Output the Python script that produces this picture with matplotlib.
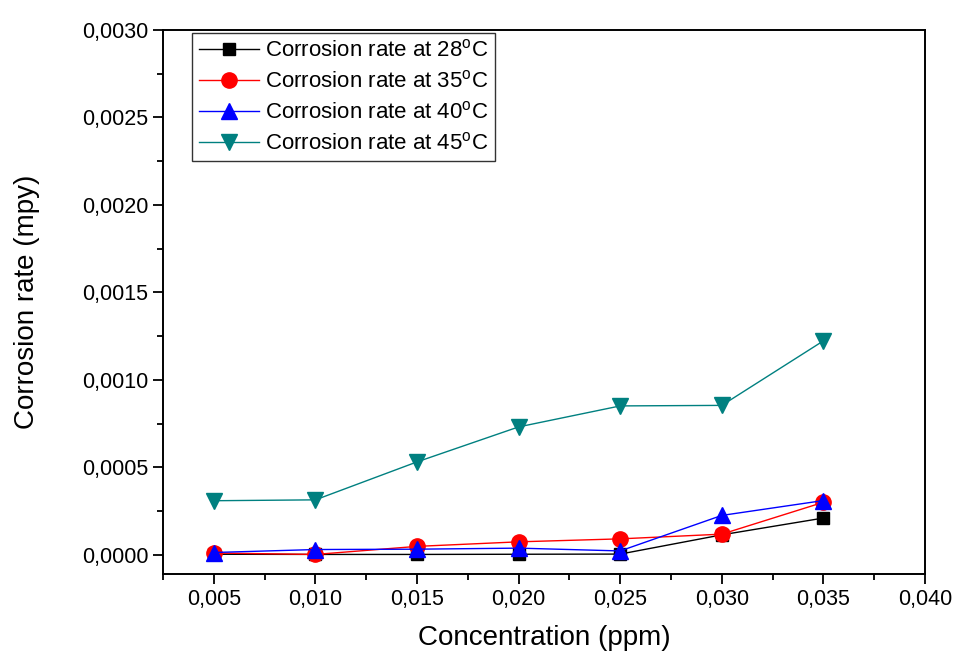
import matplotlib
matplotlib.use('Agg')
import matplotlib.pyplot as plt
from matplotlib.ticker import FuncFormatter, MultipleLocator

plt.rcParams['font.family'] = ['Liberation Sans', 'DejaVu Sans']
plt.rcParams['mathtext.default'] = 'regular'

conc = [0.005, 0.010, 0.015, 0.020, 0.025, 0.030, 0.035]
rate_28 = [0.000003, 0.000002, 0.000002, 0.000003, 0.000004, 0.000114, 0.000210]
rate_35 = [0.000010, 0.000002, 0.000048, 0.000074, 0.000091, 0.000118, 0.000300]
rate_40 = [0.000013, 0.000030, 0.000032, 0.000038, 0.000022, 0.000225, 0.000310]
rate_45 = [0.000309, 0.000314, 0.000531, 0.000731, 0.000851, 0.000854, 0.001223]
temps = ['28', '35', '40', '45']

fig = plt.figure(figsize=(9.55, 6.52), dpi=100)
ax = fig.add_axes([0.1707, 0.1196, 0.7979, 0.8344])

series = [
    (rate_28, 'black', 's', 9),
    (rate_35, 'red', 'o', 11),
    (rate_40, 'blue', '^', 12),
    (rate_45, '#008080', 'v', 12),
]
for (vals, col, mk, ms), t in zip(series, temps):
    ax.plot(conc, vals, color=col, marker=mk, markersize=ms, linewidth=1,
            label='Corrosion rate at %s$^{o}$C' % t)

ax.set_xlim(0.0025, 0.040)
ax.set_ylim(-0.00011, 0.0030)
ax.xaxis.set_major_locator(MultipleLocator(0.005))
ax.xaxis.set_minor_locator(MultipleLocator(0.0025))
ax.yaxis.set_major_locator(MultipleLocator(0.0005))
ax.yaxis.set_minor_locator(MultipleLocator(0.00025))
ax.xaxis.set_major_formatter(FuncFormatter(lambda v, p: ('%.3f' % v).replace('.', ',')))
ax.yaxis.set_major_formatter(FuncFormatter(lambda v, p: ('%.4f' % v).replace('.', ',')))
ax.set_xticks([0.005, 0.010, 0.015, 0.020, 0.025, 0.030, 0.035, 0.040])

ax.tick_params(which='both', direction='out', width=1.3, labelsize=15.5)
ax.tick_params(which='major', length=7)
ax.tick_params(which='minor', length=4)
for s in ax.spines.values():
    s.set_linewidth(1.4)

ax.set_xlabel('Concentration (ppm)', fontsize=20, labelpad=11)
ax.set_ylabel('Corrosion rate (mpy)', fontsize=20, labelpad=30)

leg = ax.legend(loc='upper left', bbox_to_anchor=(0.038, 0.9945), borderaxespad=0,
                fontsize=16, frameon=True, fancybox=False, edgecolor='black',
                handlelength=2.7, borderpad=0.3, labelspacing=0.4, handletextpad=0.3)
leg.get_frame().set_linewidth(1.0)

fig.savefig('out.png', dpi=100)
